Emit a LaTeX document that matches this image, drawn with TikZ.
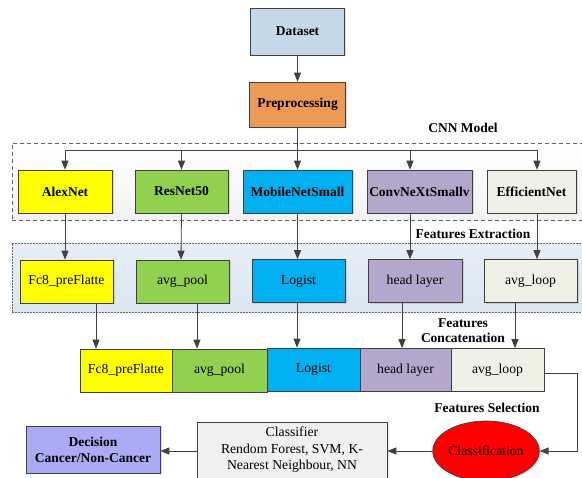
\documentclass[tikz,border=0pt]{standalone}
\usepackage{fontspec}
\setmainfont{Liberation Serif}
\usetikzlibrary{arrows.meta,shadows,shapes.geometric}
\definecolor{lineg}{HTML}{404040}
\definecolor{cdata}{HTML}{C6D9EB}
\definecolor{cpre}{HTML}{EC9A55}
\definecolor{cyel}{HTML}{FFFF00}
\definecolor{cgrn}{HTML}{92D050}
\definecolor{cblu}{HTML}{00B0F0}
\definecolor{cpur}{HTML}{B4A7CC}
\definecolor{ceff}{HTML}{EFF1E6}
\definecolor{cdec}{HTML}{ABABF5}
\definecolor{ccls}{HTML}{F0F0F0}
\definecolor{cext}{HTML}{DCE6F1}
\tikzset{
  box/.style={draw=lineg, line width=0.7pt, minimum height=43pt, inner sep=1pt,
    font=\fontsize{13.7}{15}\selectfont, align=center,
    drop shadow={opacity=0.25, shadow xshift=1.5pt, shadow yshift=-1.5pt}},
  bbox/.style={box, font=\fontsize{13.5}{15}\selectfont\bfseries},
  cbox/.style={draw=lineg, line width=0.7pt, minimum height=43pt, inner sep=1pt,
    font=\fontsize{13.7}{15}\selectfont, align=center},
  arr/.style={draw=lineg, line width=0.8pt, -{Triangle[length=9pt,width=7pt]}},
  ln/.style={draw=lineg, line width=0.8pt},
  lbl/.style={font=\fontsize{13.5}{16}\selectfont\bfseries, align=center, inner sep=0pt},
}
\begin{document}
\begin{tikzpicture}[x=1pt,y=-1pt]
\clip (0,0) rectangle (582,478);
\useasboundingbox (0,0) rectangle (582,478);
% group boxes
\node[draw=gray!80!black, dash pattern=on 4pt off 3pt, line width=0.8pt, top color=white, bottom color=gray!10,
  minimum width=580pt, minimum height=77pt, anchor=north west, inner sep=0pt] (cnnbox) at (12,143) {};
\node[draw=gray!80!black, dash pattern=on 2pt off 1pt, line width=0.8pt, top color=cext!70, bottom color=cext,
  minimum width=580pt, minimum height=69pt, anchor=north west, inner sep=0pt] (extbox) at (12,243) {};
% top
\node[bbox, fill=cdata, minimum width=94pt, minimum height=47pt] (data) at (297.5,31.5) {Dataset};
\node[bbox, fill=cpre, minimum width=96pt, minimum height=45pt] (pre) at (297.5,104.5) {Preprocessing};
% CNN row
\node[bbox, fill=cyel, minimum width=94pt] (alex) at (65,191.5) {AlexNet};
\node[bbox, fill=cgrn, minimum width=93pt] (res) at (181.5,191.5) {ResNet50};
\node[bbox, fill=cblu, minimum width=109pt] (mob) at (297.5,191.5) {MobileNetSmall};
\node[bbox, fill=cpur, minimum width=105pt] (conv) at (419.5,191.5) {ConvNeXtSmallv};
\node[bbox, fill=ceff, minimum width=89pt] (eff) at (531.5,191.5) {EfficientNet};
% features row
\node[box, fill=cyel, minimum width=93pt] (f1) at (66.5,281.5) {Fc8\_preFlatte};
\node[box, fill=cgrn, minimum width=93pt] (f2) at (182.5,281.5) {avg\_pool};
\node[box, fill=cblu, minimum width=93pt] (f3) at (298.5,281) {Logist};
\node[box, fill=cpur, minimum width=94pt] (f4) at (415,281) {head layer};
\node[box, fill=ceff, minimum width=93pt] (f5) at (530.5,281) {avg\_loop};
% concatenation row
\node[cbox, fill=cyel, minimum width=92pt] (c1) at (126,370.5) {Fc8\_preFlatte};
\node[cbox, fill=cgrn, minimum width=95pt] (c2) at (219.5,370.5) {avg\_pool};
\node[cbox, fill=cblu, minimum width=93pt] (c3) at (313.5,369.5) {Logist};
\node[cbox, fill=cpur, minimum width=91pt] (c4) at (405.5,370) {head layer};
\node[cbox, fill=ceff, minimum width=93pt] (c5) at (497.5,370) {avg\_loop};
% bottom
\node[draw=lineg, line width=0.7pt, fill=red, ellipse, minimum width=105pt, minimum height=60pt,
  inner sep=0pt, font=\fontsize{13.7}{15}\selectfont,
  drop shadow={opacity=0.25, shadow xshift=1.5pt, shadow yshift=-1.5pt}] (cls) at (486,451) {Classification};
\node[box, fill=ccls, minimum width=190pt, minimum height=56pt, font=\fontsize{13.7}{16.5}\selectfont] (clf) at (292,450)
  {Classifier\\Rendom Forest, SVM, K-\\Nearest Neighbour, NN};
\node[bbox, fill=cdec, minimum width=134pt, minimum height=47pt, font=\fontsize{13.5}{16}\selectfont\bfseries] (dec) at (93,449.5)
  {Decision\\Cancer/Non-Cancer};
% labels
\node[lbl] (lcnn) at (463,128) {CNN Model};
\node[lbl] (lext) at (473,234) {Features Extraction};
\node[lbl] (lcon) at (463,331) {Features\\[-1pt]Concatenation};
\node[lbl] (lsel) at (487,408) {Features Selection};
% connectors
\draw[arr] (data) -- (pre);
\draw[arr] (pre) -- (mob);
\coordinate (bar) at (0,150);
\coordinate (convin) at ([xshift=-9.5pt]conv.north);
\coordinate (effin) at ([xshift=5.5pt]eff.north);
\draw[ln] (alex.north |- bar) -- (effin |- bar);
\draw[arr] (alex.north |- bar) -- (alex);
\draw[arr] (res.north |- bar) -- (res);
\draw[arr] (convin |- bar) -- (convin);
\draw[arr] (effin |- bar) -- (effin);
% cnn -> features
\draw[arr] (alex.south) -- ([xshift=-1.5pt]f1.north);
\draw[arr] (res.south) -- ([xshift=-1.5pt]f2.north);
\draw[arr] (mob.south) -- ([xshift=-1pt]f3.north);
\draw[arr] (convin |- conv.south) -- (convin |- f4.north);
\draw[arr] (effin |- eff.south) -- (effin |- f5.north);
% features -> concat
\coordinate (o1) at ([xshift=29.5pt]f1.south);
\coordinate (o2) at ([xshift=14.5pt]f2.south);
\coordinate (o3) at ([xshift=-1.5pt]f3.south);
\coordinate (o4) at ([xshift=-13pt]f4.south);
\coordinate (o5) at ([xshift=-15.5pt]f5.south);
\draw[arr] (o1) -- (o1 |- c1.north);
\draw[arr] (o2) -- (o2 |- c2.north);
\draw[arr] (o3) -- (o3 |- c3.north);
\draw[arr] (o4) -- (o4 |- c4.north);
\draw[arr] (o5) -- (o5 |- c5.north);
% concat -> classification
\coordinate (rt) at (577,373);
\draw[arr] ([yshift=-3pt]c5.east) -- (rt) -- (rt |- cls.east) -- (cls.east);
\draw[arr] (cls.west) -- (clf.east |- cls.west);
\draw[arr] (clf.west |- cls.west) -- (dec.east |- cls.west);
\end{tikzpicture}
\end{document}
